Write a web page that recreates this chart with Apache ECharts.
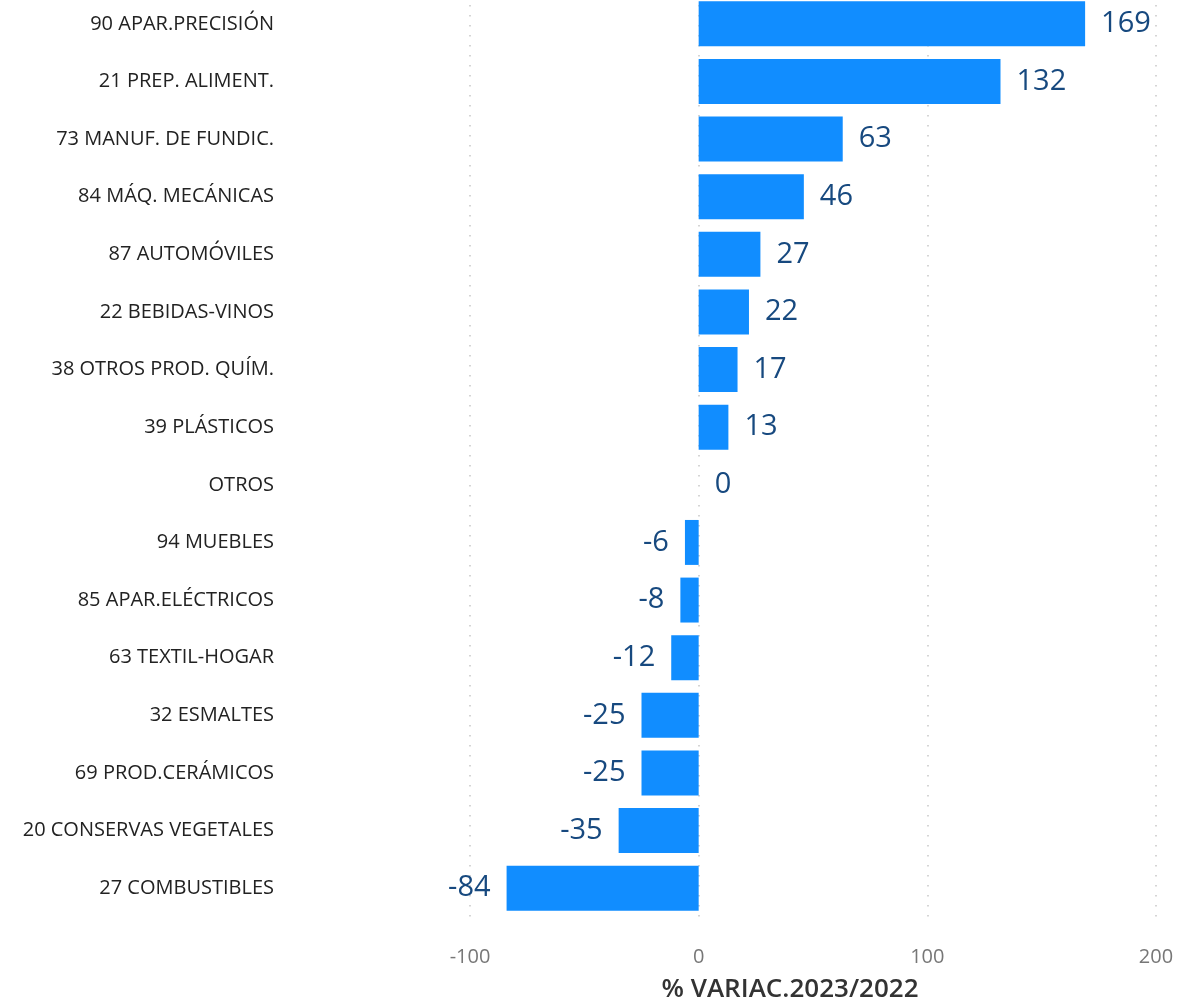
<!DOCTYPE html>
<html><head><meta charset="utf-8">
<script src="https://cdn.jsdelivr.net/npm/echarts@6/dist/echarts.min.js"></script>
<style>html,body{margin:0;padding:0;background:#fff;overflow:hidden}#c{position:absolute;left:0;top:-5px;width:1177px;height:1008px}</style>
</head><body><div id="c"></div>
<script>
const categories = ["90 APAR.PRECISIÓN","21 PREP. ALIMENT.","73 MANUF. DE FUNDIC.","84 MÁQ. MECÁNICAS","87 AUTOMÓVILES","22 BEBIDAS-VINOS","38 OTROS PROD. QUÍM.","39 PLÁSTICOS","OTROS","94 MUEBLES","85 APAR.ELÉCTRICOS","63 TEXTIL-HOGAR","32 ESMALTES","69 PROD.CERÁMICOS","20 CONSERVAS VEGETALES","27 COMBUSTIBLES"];
const values = [169,132,63,46,27,22,17,13,0,-6,-8,-12,-25,-25,-35,-84];
const xTicks = [-100,0,100,200];
const axisTitle = "% VARIAC.2023/2022";

const chart = echarts.init(document.getElementById('c'));
const font = "'Open Sans', 'Noto Sans', sans-serif";
chart.setOption({
  animation:false,
  textStyle:{fontFamily:font},
  grid:{left:470, right:21, top:0, bottom:86, containLabel:false},
  xAxis:{type:'value', min:xTicks[0], max:xTicks[xTicks.length-1], interval:100,
    axisLine:{show:false}, axisTick:{show:false},
    splitLine:{show:true, lineStyle:{color:'#c8c8c8', width:1.5, type:[1.5,8.5]}},
    axisLabel:{color:'#777', fontSize:20, margin:30, fontFamily:font}},
  yAxis:{type:'category', inverse:true, data:categories,
    axisLine:{show:false}, axisTick:{show:false},
    axisLabel:{color:'#222', fontSize:20, margin:196, fontFamily:font}},
  graphic:[{type:'text', x:790, y:982,
    style:{text:axisTitle, fill:'#333', fontSize:26, fontFamily:font, fontWeight:600, textAlign:'center'}}],
  series:[{type:'bar', data:values.map(v=>({value:v, label:{position: v<0?'left':'right'}})),
    barCategoryGap:'22%',
    itemStyle:{color:'#118DFF'},
    label:{show:true, distance:16, color:'#17497f', fontSize:29, fontFamily:font}}]
});
</script></body></html>
